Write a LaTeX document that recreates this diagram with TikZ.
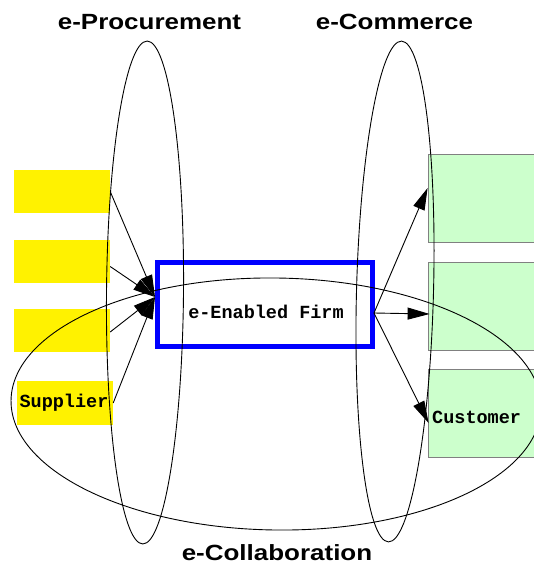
\documentclass[tikz,border=0pt]{standalone}
\usepackage{fontspec}
\usepackage{graphicx}
\usetikzlibrary{arrows.meta}
\newfontfamily\monob{Liberation Mono}
\newfontfamily\sansb{Liberation Sans}
\definecolor{ygreen}{RGB}{204,255,204}
\definecolor{gborder}{RGB}{128,128,128}
\tikzset{
  ybox/.style={fill=yellow, draw=none, minimum width=96pt, minimum height=43pt, inner sep=0pt},
  gbox/.style={fill=ygreen, draw=gborder, line width=0.8pt, minimum width=132pt, minimum height=88pt, inner sep=0pt},
  firmbox/.style={draw=blue, line width=5pt, minimum width=215pt, minimum height=84pt, inner sep=0pt},
  ttlabel/.style={font=\monob\bfseries\fontsize{18.5}{20}\selectfont, inner sep=0pt, anchor=base},
  title/.style={font=\sansb\bfseries\fontsize{22}{24}\selectfont, inner sep=0pt, anchor=base},
  conn/.style={line width=0.9pt, -{Triangle[length=22pt,width=12pt]}},
  ring/.style={line width=0.9pt, draw=black}
}
\begin{document}
\begin{tikzpicture}[x=1pt,y=-1pt]
\useasboundingbox (0,0) rectangle (534,565);
% supplier boxes
\node[ybox] (s1) at (62,191.5) {};
\node[ybox] (s2) at (62,261.5) {};
\node[ybox] (s3) at (62,330) {};
\node[ybox, minimum height=44pt] (s4) at (65,403) {};
\node[ttlabel] (sl) at (64,407) {Supplier};
% customer boxes
\node[gbox] (c1) at (494,198) {};
\node[gbox] (c2) at (494,306) {};
\node[gbox] (c3) at (494,413) {};
\node[ttlabel, anchor=base west] (cl) at (432,423) {Customer};
% firm
\node[firmbox] (f) at (265,304.5) {};
\node[ttlabel] (fl) at (266,318) {e-Enabled Firm};
\coordinate (fin) at (155,297);
\coordinate (fout) at (374,313);
% connectors
\draw[conn] (s1.east) -- (fin);
\draw[conn] ([yshift=-5pt]s2.east) -- (fin);
\draw[conn] ([yshift=-2pt]s3.east) -- (fin);
\draw[conn] (s4.east) -- (fin);
\draw[conn] (fout) -- ([yshift=10pt]c1.west);
\draw[conn] (fout) -- ([yshift=-8pt,xshift=2pt]c2.west);
\draw[conn] (fout) -- ([yshift=-10pt,xshift=1pt]c3.west);
% ellipses
\draw[ring, rotate around={-0.5:(145,292.5)}] (145,292.5) ellipse [x radius=38.5, y radius=251.5];
\draw[ring, rotate around={-1.5:(395,291.5)}] (395,291.5) ellipse [x radius=38.5, y radius=250.5];
\draw[ring, rotate around={-0.8:(276,404)}] (276,404) ellipse [x radius=265, y radius=126];
% titles
\node[title] (t1) at (149.5,29) {\scalebox{1.18}[1]{e-Procurement}};
\node[title] (t2) at (394.5,29) {\scalebox{1.18}[1]{e-Commerce}};
\node[title] (t3) at (277,560) {\scalebox{1.18}[1]{e-Collaboration}};
\end{tikzpicture}
\end{document}
